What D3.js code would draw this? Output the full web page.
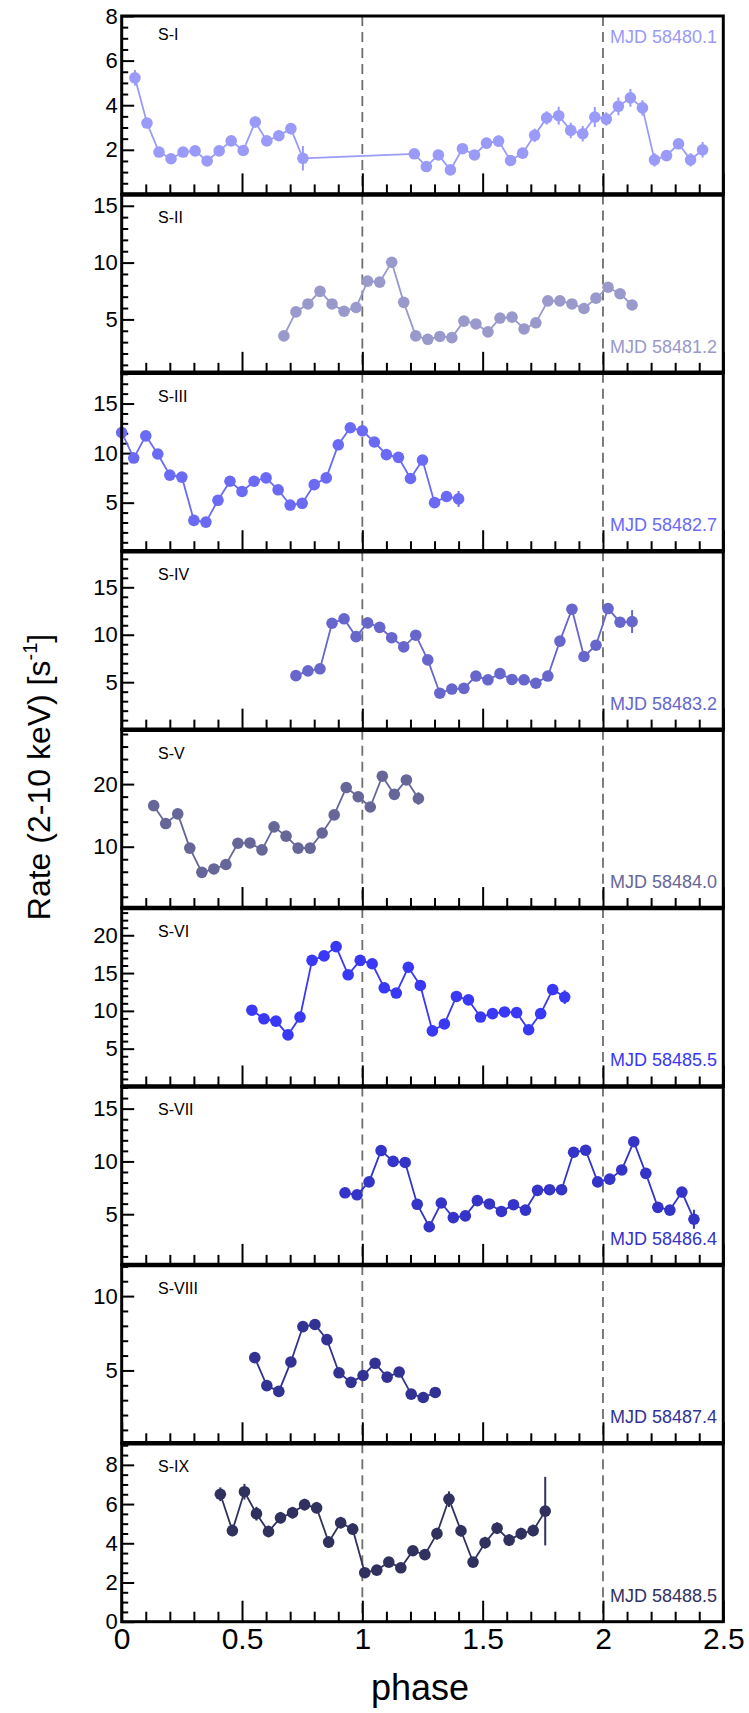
<!DOCTYPE html>
<html>
<head>
<meta charset="utf-8">
<script src="https://cdn.jsdelivr.net/npm/d3@7"></script>
<style>
  body { margin: 0; background: #fff; }
  svg { display: block; font-family: "Liberation Sans", Arial, Helvetica, sans-serif; }
</style>
</head>
<body>
<svg id="chart" width="749" height="1713"></svg>
<script>
// ---- data ----
const panelNames = ['S-I', 'S-II', 'S-III', 'S-IV', 'S-V', 'S-VI', 'S-VII', 'S-VIII', 'S-IX'];
const mjdLabels = ['MJD 58480.1', 'MJD 58481.2', 'MJD 58482.7', 'MJD 58483.2', 'MJD 58484.0',
                   'MJD 58485.5', 'MJD 58486.4', 'MJD 58487.4', 'MJD 58488.5'];
const colors = ['#9a9af8', '#9999cc', '#6a6af5', '#6666cc', '#666699',
                '#3838f5', '#3434c8', '#323294', '#31315f'];

const yDomains = [[0, 8], [0.3, 16], [0.1, 18.1], [0, 18.8], [0.2, 28.7],
                  [0, 23.6], [0.2, 17.1], [0.1, 12.1], [0, 9.1]];
const yTicks = [[2, 4, 6, 8], [5, 10, 15], [5, 10, 15], [5, 10, 15], [10, 20],
                [5, 10, 15, 20], [5, 10, 15], [5, 10], [0, 2, 4, 6, 8]];
const yMinorStep = [0.5, 1, 1, 1, 2, 1, 1, 1, 0.5];

const phaseTicks = [0, 0.5, 1, 1.5, 2, 2.5];
const phaseTickLabels = ['0', '0.5', '1', '1.5', '2', '2.5'];
const phaseMinorTicks = [0.1, 0.2, 0.3, 0.4, 0.6, 0.7, 0.8, 0.9, 1.1, 1.2, 1.3, 1.4,
                         1.6, 1.7, 1.8, 1.9, 2.1, 2.2, 2.3, 2.4];
const cycleLines = [1, 2];

const phase1 = [0.055, 0.105, 0.155, 0.205, 0.255, 0.305, 0.355, 0.405, 0.455, 0.505, 0.555, 0.603, 0.653, 0.703, 0.753,
                1.216, 1.266, 1.316, 1.366, 1.416, 1.466, 1.516, 1.566, 1.616, 1.666, 1.716, 1.766, 1.816, 1.866, 1.916,
                1.966, 2.014, 2.064, 2.114, 2.164, 2.214, 2.264, 2.314, 2.364, 2.414];
const rate1 = [5.23, 3.2, 1.9, 1.6, 1.9, 1.95, 1.5, 1.95, 2.4, 1.97, 3.25, 2.4, 2.63, 2.95, 1.62,
               1.82, 1.25, 1.77, 1.1, 2.05, 1.77, 2.3, 2.39, 1.52, 1.85, 2.65, 3.43, 3.53, 2.87, 2.72,
               3.47, 3.38, 3.95, 4.33, 3.88, 1.55, 1.74, 2.27, 1.55, 2.0];
const err1 = [0.35, 0.2, 0.2, 0.2, 0.2, 0.2, 0.2, 0.2, 0.2, 0.2, 0.25, 0.2, 0.2, 0.25, 0.55,
              0.2, 0.2, 0.2, 0.2, 0.2, 0.2, 0.25, 0.25, 0.2, 0.2, 0.3, 0.3, 0.4, 0.35, 0.35,
              0.45, 0.3, 0.4, 0.4, 0.35, 0.3, 0.2, 0.2, 0.3, 0.35];

const phase2 = [0.674, 0.724, 0.774, 0.824, 0.874, 0.924, 0.974, 1.022, 1.072, 1.122, 1.172, 1.222, 1.272, 1.322, 1.372,
                1.422, 1.472, 1.522, 1.572, 1.622, 1.672, 1.721, 1.771, 1.821, 1.871, 1.921, 1.971, 2.021, 2.071, 2.121];
const rate2 = [3.55, 5.66, 6.36, 7.47, 6.36, 5.72, 6.05, 8.37, 8.28, 10.03, 6.5, 3.55, 3.25, 3.5, 3.4,
               4.85, 4.6, 3.9, 5.12, 5.2, 4.16, 4.7, 6.63, 6.63, 6.36, 5.96, 6.87, 7.83, 7.26, 6.27];
const err2 = [0.3, 0.3, 0.3, 0.3, 0.3, 0.3, 0.3, 0.3, 0.3, 0.3, 0.3, 0.3, 0.3, 0.3, 0.3,
              0.3, 0.3, 0.3, 0.3, 0.3, 0.3, 0.3, 0.3, 0.3, 0.3, 0.3, 0.3, 0.3, 0.3, 0.3];

const phase3 = [0.0, 0.05, 0.1, 0.15, 0.2, 0.25, 0.3, 0.35, 0.4, 0.45, 0.5, 0.55, 0.6, 0.65, 0.7,
                0.75, 0.8, 0.85, 0.9, 0.95, 1.0, 1.05, 1.1, 1.15, 1.2, 1.25, 1.3, 1.35, 1.4];
const rate3 = [12.08, 9.5, 11.74, 9.91, 7.78, 7.58, 3.21, 3.04, 5.24, 7.16, 6.13, 7.16, 7.5, 6.3, 4.76,
               4.93, 6.82, 7.5, 10.84, 12.56, 12.25, 11.12, 9.85, 9.57, 7.44, 9.3, 5.0, 5.62, 5.38];
const err3 = [0.35, 0.35, 0.35, 0.35, 0.35, 0.35, 0.3, 0.3, 0.35, 0.35, 0.35, 0.35, 0.35, 0.35, 0.35,
              0.35, 0.35, 0.35, 0.4, 0.4, 0.4, 0.4, 0.4, 0.4, 0.35, 0.4, 0.35, 0.4, 0.8];

const phase4 = [0.724, 0.774, 0.824, 0.874, 0.924, 0.974, 1.022, 1.072, 1.122, 1.172, 1.222, 1.272, 1.322, 1.372, 1.422,
                1.472, 1.522, 1.572, 1.622, 1.672, 1.721, 1.771, 1.821, 1.871, 1.921, 1.971, 2.021, 2.071, 2.121];
const rate4 = [5.69, 6.19, 6.41, 11.21, 11.68, 9.8, 11.25, 10.78, 9.69, 8.72, 9.95, 7.35, 3.84, 4.28, 4.35,
               5.65, 5.25, 5.9, 5.29, 5.25, 4.89, 5.65, 9.33, 12.69, 7.71, 8.9, 12.76, 11.32, 11.39];
const err4 = [0.35, 0.35, 0.35, 0.4, 0.4, 0.4, 0.4, 0.4, 0.4, 0.35, 0.4, 0.35, 0.3, 0.3, 0.3,
              0.35, 0.35, 0.35, 0.35, 0.35, 0.35, 0.35, 0.4, 0.45, 0.4, 0.4, 0.45, 0.45, 1.2];

const phase5 = [0.133, 0.183, 0.233, 0.283, 0.333, 0.383, 0.433, 0.483, 0.533, 0.583, 0.633, 0.683, 0.733, 0.783, 0.833,
                0.883, 0.933, 0.983, 1.033, 1.083, 1.133, 1.183, 1.233];
const rate5 = [16.56, 13.7, 15.25, 9.78, 5.9, 6.45, 7.16, 10.55, 10.6, 9.5, 13.17, 11.69, 9.78, 9.78, 12.19,
               15.08, 19.45, 17.98, 16.34, 21.26, 18.36, 20.66, 17.7];
const err5 = [0.5, 0.5, 0.5, 0.5, 0.4, 0.4, 0.4, 0.5, 0.5, 0.5, 0.5, 0.5, 0.5, 0.5, 0.5,
              0.5, 0.6, 0.6, 0.6, 0.6, 0.6, 0.6, 1.0];

const phase6 = [0.541, 0.591, 0.641, 0.691, 0.741, 0.791, 0.841, 0.891, 0.941, 0.991, 1.041, 1.091, 1.141, 1.191, 1.241,
                1.291, 1.341, 1.391, 1.441, 1.491, 1.541, 1.591, 1.641, 1.691, 1.741, 1.791, 1.841];
const rate6 = [10.09, 8.95, 8.64, 6.82, 9.18, 16.68, 17.27, 18.5, 14.77, 16.68, 16.23, 13.05, 12.36, 15.77, 13.36,
               7.36, 8.27, 11.91, 11.45, 9.18, 9.64, 9.86, 9.77, 7.5, 9.64, 12.82, 11.82];
const err6 = [0.4, 0.4, 0.4, 0.4, 0.4, 0.5, 0.5, 0.5, 0.5, 0.5, 0.5, 0.5, 0.5, 0.5, 0.5,
              0.4, 0.4, 0.4, 0.4, 0.4, 0.4, 0.4, 0.4, 0.4, 0.4, 0.5, 0.9];

const phase7 = [0.928, 0.978, 1.028, 1.078, 1.128, 1.178, 1.228, 1.278, 1.328, 1.378, 1.428, 1.478, 1.528, 1.578, 1.628,
                1.678, 1.728, 1.778, 1.828, 1.878, 1.928, 1.978, 2.028, 2.078, 2.128, 2.178, 2.228, 2.278, 2.328, 2.378];
const rate7 = [7.03, 6.84, 8.06, 11.03, 10.0, 9.9, 5.94, 3.81, 6.06, 4.68, 4.84, 6.29, 5.97, 5.26, 5.9,
               5.39, 7.26, 7.32, 7.32, 10.87, 11.06, 8.06, 8.32, 9.19, 11.87, 8.87, 5.65, 5.39, 7.1, 4.52];
const err7 = [0.35, 0.35, 0.35, 0.4, 0.4, 0.4, 0.35, 0.3, 0.35, 0.3, 0.3, 0.35, 0.35, 0.3, 0.35,
              0.3, 0.35, 0.35, 0.35, 0.4, 0.4, 0.35, 0.35, 0.4, 0.4, 0.4, 0.35, 0.35, 0.4, 0.9];

const phase8 = [0.553, 0.603, 0.653, 0.703, 0.753, 0.803, 0.853, 0.903, 0.953, 1.003, 1.053, 1.103, 1.153, 1.203, 1.253,
                1.303];
const rate8 = [5.86, 3.98, 3.59, 5.57, 7.95, 8.09, 7.07, 4.84, 4.2, 4.66, 5.48, 4.55, 4.89, 3.41, 3.18,
               3.52];
const err8 = [0.3, 0.3, 0.3, 0.3, 0.35, 0.35, 0.3, 0.3, 0.3, 0.3, 0.3, 0.3, 0.3, 0.3, 0.3,
              0.3];

const phase9 = [0.41, 0.46, 0.51, 0.56, 0.61, 0.66, 0.71, 0.76, 0.81, 0.86, 0.91, 0.96, 1.01, 1.06, 1.11,
                1.16, 1.21, 1.26, 1.31, 1.36, 1.41, 1.46, 1.51, 1.56, 1.61, 1.66, 1.71, 1.76];
const rate9 = [6.5, 4.65, 6.63, 5.51, 4.6, 5.3, 5.56, 5.97, 5.81, 4.06, 5.05, 4.72, 2.5, 2.63, 3.04,
               2.75, 3.62, 3.42, 4.49, 6.25, 4.64, 3.04, 4.03, 4.77, 4.16, 4.49, 4.65, 5.64];
const err9 = [0.35, 0.3, 0.4, 0.35, 0.3, 0.3, 0.3, 0.3, 0.3, 0.3, 0.3, 0.3, 0.25, 0.25, 0.25,
              0.25, 0.25, 0.25, 0.3, 0.4, 0.3, 0.25, 0.3, 0.3, 0.3, 0.3, 0.3, 1.75];

const phases = [phase1, phase2, phase3, phase4, phase5, phase6, phase7, phase8, phase9];
const rates = [rate1, rate2, rate3, rate4, rate5, rate6, rate7, rate8, rate9];
const errs = [err1, err2, err3, err4, err5, err6, err7, err8, err9];

// ---- layout ----
const frameLeft = 121.7;
const frameRight = 723.3;
const frameTop = 16;
const frameBottom = 1621.7;
const nPanels = panelNames.length;
const panelH = (frameBottom - frameTop) / nPanels;

const svg = d3.select('#chart');

const x = d3.scaleLinear().domain([0, 2.5]).range([frameLeft, frameRight]);

panelNames.forEach((name, i) => {
    const g = svg.append('g')
        .attr('transform', `translate(0,${frameTop + i * panelH})`);
    const y = d3.scaleLinear().domain(yDomains[i]).range([panelH, 0]);
    const color = colors[i];
    const isLast = i === nPanels - 1;

    // dashed cycle markers
    g.selectAll('.cycle')
        .data(cycleLines)
        .enter()
        .append('line')
        .attr('x1', d => x(d))
        .attr('x2', d => x(d))
        .attr('y1', 0)
        .attr('y2', panelH)
        .attr('stroke', '#6f6f6f')
        .attr('stroke-width', 1.8)
        .attr('stroke-dasharray', '10,6');

    // minor y ticks
    const [y0, y1] = yDomains[i];
    const minor = d3.range(Math.ceil(y0 / yMinorStep[i]) * yMinorStep[i], y1, yMinorStep[i])
        .filter(v => !yTicks[i].includes(v));
    g.append('g')
        .attr('transform', `translate(${frameLeft},0)`)
        .call(d3.axisLeft(y).tickValues(minor).tickSize(-6.5).tickFormat(''))
        .call(a => a.select('.domain').remove())
        .selectAll('line').attr('stroke', '#000').attr('stroke-width', 2);

    // major y ticks + labels
    const yAxis = g.append('g')
        .attr('transform', `translate(${frameLeft},0)`)
        .call(d3.axisLeft(y).tickValues(yTicks[i]).tickSize(-12.5).tickPadding(4).tickFormat(d3.format('d')));
    yAxis.select('.domain').remove();
    yAxis.selectAll('line').attr('stroke', '#000').attr('stroke-width', 2);
    yAxis.selectAll('text')
        .attr('font-size', 22)
        .attr('fill', '#000')
        .attr('font-family', '"Liberation Sans", Arial, sans-serif');

    // x ticks on the bottom of every panel
    g.append('g')
        .attr('transform', `translate(0,${panelH})`)
        .call(d3.axisBottom(x).tickValues(phaseMinorTicks).tickSize(-10).tickFormat(''))
        .call(a => a.select('.domain').remove())
        .selectAll('line').attr('stroke', '#000').attr('stroke-width', 2);

    const xAxis = g.append('g')
        .attr('transform', `translate(0,${panelH})`)
        .call(d3.axisBottom(x).tickValues(phaseTicks).tickSize(-21).tickPadding(6)
            .tickFormat((d, k) => isLast ? phaseTickLabels[k] : ''));
    xAxis.select('.domain').remove();
    xAxis.selectAll('line').attr('stroke', '#000').attr('stroke-width', 2);
    xAxis.selectAll('text')
        .attr('font-size', 30)
        .attr('fill', '#000')
        .attr('font-family', '"Liberation Sans", Arial, sans-serif');

    // light curve
    const pts = phases[i].map((p, k) => ({ p, r: rates[i][k], e: errs[i][k] }));

    const line = d3.line().x(d => x(d.p)).y(d => y(d.r));
    g.append('path')
        .datum(pts)
        .attr('d', line)
        .attr('fill', 'none')
        .attr('stroke', color)
        .attr('stroke-width', 1.8);

    g.selectAll('.err')
        .data(pts)
        .enter()
        .append('line')
        .attr('x1', d => x(d.p))
        .attr('x2', d => x(d.p))
        .attr('y1', d => y(d.r - d.e))
        .attr('y2', d => y(d.r + d.e))
        .attr('stroke', color)
        .attr('stroke-width', 2);

    g.selectAll('.pt')
        .data(pts)
        .enter()
        .append('circle')
        .attr('cx', d => x(d.p))
        .attr('cy', d => y(d.r))
        .attr('r', 5.8)
        .attr('fill', color);

    // labels
    g.append('text')
        .attr('x', 158)
        .attr('y', i === 0 ? 24 : 29)
        .attr('font-size', 16)
        .attr('fill', '#000')
        .text(name);

    g.append('text')
        .attr('x', 717)
        .attr('y', i === 0 ? 27 : panelH - 20)
        .attr('text-anchor', 'end')
        .attr('font-size', 18)
        .attr('fill', color)
        .text(mjdLabels[i]);

    // frame
    g.append('rect')
        .attr('x', frameLeft)
        .attr('y', 0)
        .attr('width', frameRight - frameLeft)
        .attr('height', panelH)
        .attr('fill', 'none')
        .attr('stroke', '#000')
        .attr('stroke-width', 3);
});

// thicker separators between panels
svg.selectAll('.sep')
    .data(d3.range(1, nPanels))
    .enter()
    .append('line')
    .attr('x1', frameLeft)
    .attr('x2', frameRight)
    .attr('y1', k => frameTop + k * panelH)
    .attr('y2', k => frameTop + k * panelH)
    .attr('stroke', '#000')
    .attr('stroke-width', 4.5);

// axis titles
svg.append('text')
    .attr('transform', `translate(50,777) rotate(-90)`)
    .attr('text-anchor', 'middle')
    .attr('font-size', 32)
    .attr('fill', '#000')
    .call(t => {
        t.append('tspan').text('Rate (2-10 keV) [s');
        t.append('tspan').attr('font-size', 20).attr('dy', -13).text('-1');
        t.append('tspan').attr('dy', 13).text(']');
    });

svg.append('text')
    .attr('x', x(1.24))
    .attr('y', 1700)
    .attr('text-anchor', 'middle')
    .attr('font-size', 36)
    .attr('fill', '#000')
    .text('phase');
</script>
</body>
</html>
